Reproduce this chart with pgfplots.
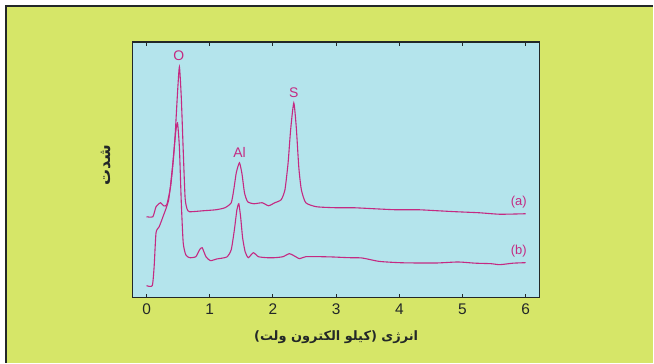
\documentclass[border=0pt]{standalone}
\usepackage{pgfplots}
\pgfplotsset{compat=1.18}
\usepackage{fontspec}
\setmainfont{Liberation Sans}
\newfontfamily\arabicfont[Script=Arabic]{DejaVu Sans}
\TeXXeTstate=1
\definecolor{bgyellow}{RGB}{214,230,104}
\definecolor{bgcyan}{RGB}{180,228,236}
\definecolor{spec}{RGB}{196,42,130}
\definecolor{axdark}{RGB}{35,40,40}
\begin{document}
\begin{tikzpicture}
\fill[white] (0,0) rectangle (654bp,363bp);
\fill[bgyellow] (6bp,0) rectangle (654bp,357bp);
\draw[axdark, line width=1.6bp] (6bp,0) -- (6bp,357bp) -- (654bp,357bp);
\begin{axis}[
  at={(133bp,65bp)}, anchor=south west,
  scale only axis, width=407bp, height=256bp,
  xmin=-0.217, xmax=6.216, ymin=0, ymax=256,
  axis background/.style={fill=bgcyan},
  axis line style={axdark, line width=1.3bp},
  xtick={0,1,2,3,4,5,6}, ytick=\empty,
  tick align=inside, major tick length=4bp,
  every tick/.style={axdark, line width=1.1bp},
  /pgf/number format/assume math mode=true,
  xticklabel style={font=\fontsize{15.5}{17}\selectfont, text=axdark, yshift=-2.5bp},
  clip=false,
]
\addplot[spec, line width=1.1bp, smooth, tension=0.35] coordinates {
(0,81) (0.1,81) (0.15,91) (0.22,95) (0.27,92) (0.32,93) (0.38,111) (0.42,135) (0.45,160) (0.49,205) (0.52,231) (0.55,200) (0.58,148) (0.61,100) (0.64,89) (0.68,86)
(0.9,87) (1.1,88) (1.24,90) (1.34,95) (1.38,108) (1.42,125) (1.47,135) (1.51,124) (1.55,105) (1.6,96) (1.7,94) (1.83,95) (1.93,92) (2.03,95) (2.13,98)
(2.19,108) (2.24,135) (2.28,168) (2.33,195) (2.37,170) (2.41,130) (2.45,108) (2.52,95) (2.69,91) (3.0,90) (3.28,90) (3.6,89) (3.94,88) (4.3,88) (4.6,87) (4.9,86) (5.26,85) (5.59,83.5) (6.0,84)
};
\addplot[spec, line width=1.1bp, smooth, tension=0.35] coordinates {
(0,12) (0.09,12) (0.12,31) (0.15,65) (0.2,71) (0.26,81) (0.35,98) (0.41,131) (0.46,165) (0.49,175) (0.52,150) (0.55,95) (0.58,55) (0.62,43) (0.68,40) (0.78,41)
(0.84,48) (0.88,50) (0.94,41) (1.01,37) (1.11,38.7) (1.27,40.7) (1.34,48) (1.39,68) (1.43,88) (1.46,94) (1.49,80) (1.52,60) (1.56,46) (1.61,40) (1.69,45) (1.77,41)
(1.9,40) (2.03,40) (2.16,41) (2.26,44) (2.36,41) (2.42,39) (2.52,41) (2.75,41) (2.95,40.7) (3.2,40) (3.41,39.7) (3.68,36.3) (4.0,35) (4.27,34.7) (4.6,34.7) (4.93,35.7) (5.2,34.5) (5.45,34) (5.59,33) (5.8,34.5) (6.0,35)
};
\node[text=spec, font=\fontsize{14}{16}\selectfont] at (axis cs:0.51,242) {O};
\node[text=spec, font=\fontsize{14}{16}\selectfont] at (axis cs:1.47,145) {Al};
\node[text=spec, font=\fontsize{14}{16}\selectfont] at (axis cs:2.33,205) {S};
\node[text=spec, font=\fontsize{13}{15}\selectfont] at (axis cs:5.89,96) {(a)};
\node[text=spec, font=\fontsize{13}{15}\selectfont] at (axis cs:5.89,47) {(b)};
\node[text=axdark, font=\arabicfont\bfseries\fontsize{13}{15}\selectfont] at ([yshift=-40bp]rel axis cs:0.5,0) {\beginR انرژی (کیلو الکترون ولت)\endR};
\node[text=axdark, rotate=90, font=\arabicfont\bfseries\fontsize{16}{18}\selectfont] at ([xshift=-27bp,yshift=5bp]rel axis cs:0,0.5) {\beginR شدت\endR};
\end{axis}
\end{tikzpicture}
\end{document}
